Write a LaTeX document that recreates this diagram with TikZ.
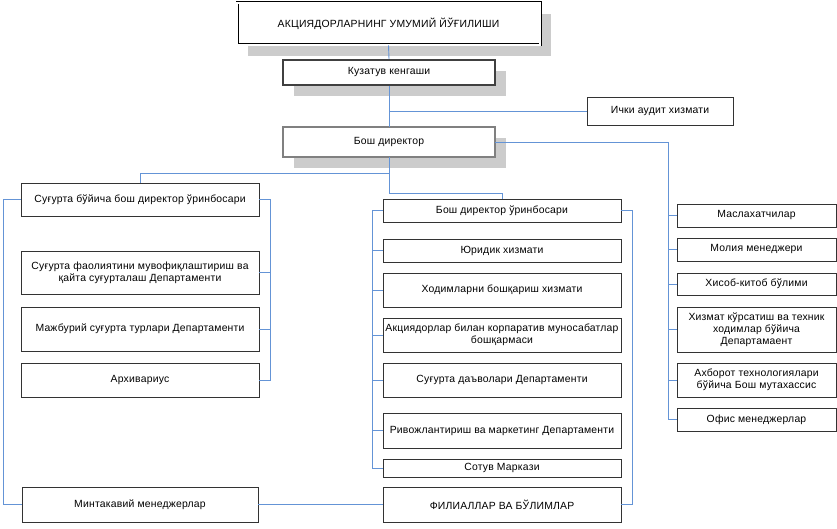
\documentclass[tikz,border=0pt]{standalone}
\usepackage{fontspec}
\setmainfont{Liberation Sans}[LetterSpace=2]
\usetikzlibrary{shadows}
\definecolor{conn}{RGB}{100,148,214}
\definecolor{shd}{RGB}{204,204,204}
\tikzset{
  box/.style={draw=black!80, line width=0.9pt, fill=white, inner sep=1pt,
    align=center, font=\fontsize{10.4}{12}\selectfont},
  shbox/.style={box, drop shadow={shadow xshift=11pt, shadow yshift=-11pt, opacity=1, fill=shd}},
  topbox/.style={shbox, draw=black, line width=0.7pt, double=white, double distance=1.6pt},
  bossbox/.style={shbox, draw=black, line width=0.7pt, double=gray, double distance=1.4pt},
  kuzbox/.style={shbox, draw=black!75, line width=2pt},
  link/.style={draw=conn, line width=0.9pt},
}
\begin{document}
\begin{tikzpicture}[x=1pt,y=-1pt]
\useasboundingbox (0,0) rectangle (837,529);
% top part
\node[topbox, minimum width=303pt, minimum height=42pt] (top) at (388.5,24) {АКЦИЯДОРЛАРНИНГ УМУМИЙ ЙЎҒИЛИШИ};
\node[kuzbox, minimum width=212pt, minimum height=25pt] (kuz) at (389,72.5) {Кузатув кенгаши};
\node[bossbox, minimum width=212pt, minimum height=30pt] (bosh) at (389,142) {Бош директор};
\node[box, minimum width=146pt, minimum height=28pt] (ichki) at (660,111) {Ички аудит хизмати};
% right column
\node[box, minimum width=159pt, minimum height=23pt] (masl) at (756.5,215.5) {Маслахатчилар};
\node[box, minimum width=159pt, minimum height=23pt] (moliya) at (756.5,249.5) {Молия менеджери};
\node[box, minimum width=159pt, minimum height=22pt] (hisob) at (756.5,284) {Хисоб-китоб бўлими};
\node[box, minimum width=159pt, minimum height=45pt] (hizmat) at (756.5,329.5) {Хизмат кўрсатиш ва техник\\ходимлар бўйича\\Департамаент};
\node[box, minimum width=159pt, minimum height=34pt] (ahborot) at (756.5,380) {Ахборот технологиялари\\бўйича Бош мутахассис};
\node[box, minimum width=159pt, minimum height=23pt] (ofis) at (756.5,419.5) {Офис менеджерлар};
% left column
\node[box, minimum width=238pt, minimum height=33pt] (l1) at (140,199.5) {Суғурта бўйича бош директор ўринбосари};
\node[box, minimum width=238pt, minimum height=43pt] (l2) at (140,272.5) {Суғурта фаолиятини мувофиқлаштириш ва\\қайта суғурталаш Департаменти};
\node[box, minimum width=238pt, minimum height=44pt] (l3) at (140,329) {Мажбурий суғурта турлари Департаменти};
\node[box, minimum width=238pt, minimum height=34pt] (l4) at (140,380) {Архивариус};
\node[box, minimum width=236pt, minimum height=35pt] (mint) at (140,504.5) {Минтакавий менеджерлар};
% middle column
\node[box, minimum width=238pt, minimum height=23pt] (m1) at (502,210.5) {Бош директор ўринбосари};
\node[box, minimum width=238pt, minimum height=23pt] (m2) at (502,250.5) {Юридик хизмати};
\node[box, minimum width=238pt, minimum height=34pt] (m3) at (502,290) {Ходимларни бошқариш хизмати};
\node[box, minimum width=238pt, minimum height=34pt] (m4) at (502,335) {Акциядорлар билан корпаратив муносабатлар\\бошқармаси};
\node[box, minimum width=238pt, minimum height=34pt] (m5) at (502,380) {Суғурта даъволари Департаменти};
\node[box, minimum width=238pt, minimum height=35pt] (m6) at (502,430.5) {Ривожлантириш ва маркетинг Департаменти};
\node[box, minimum width=238pt, minimum height=18pt] (m7) at (502,468) {Сотув Маркази};
\node[box, minimum width=238pt, minimum height=35pt] (fil) at (502,504.5) {ФИЛИАЛЛАР ВА БЎЛИМЛАР};
% helper coordinates
\coordinate (rbus) at (668,142);
\coordinate (lbus) at (270,199.5);
\coordinate (obus) at (3,199.5);
\coordinate (mbus) at (372,210.5);
\coordinate (fbus) at (632,210.5);
\coordinate (splitl) at (389,173);
\coordinate (splitm) at (389,193);
% connectors
\draw[link] (top.south) -- (kuz.north);
\draw[link] (kuz.south) -- (bosh.north);
\draw[link] (kuz.south |- ichki.west) -- (ichki.west);
\draw[link] (bosh.east) -- (rbus) -- (rbus |- ofis.west) -- (ofis.west);
\foreach \n in {masl,moliya,hisob,hizmat,ahborot} \draw[link] (rbus |- \n.west) -- (\n.west);
\draw[link] (bosh.south) -- (splitm) -| (m1.north);
\draw[link] (splitl) -| (l1.north);
\draw[link] (l1.east) -- (lbus) -- (lbus |- l4.east) -- (l4.east);
\foreach \n in {l2,l3} \draw[link] (lbus |- \n.east) -- (\n.east);
\draw[link] (l1.west) -- (obus) -- (obus |- mint.west) -- (mint.west);
\draw[link] (mint.east) -- (fil.west);
\draw[link] (fil.east) -- (fbus |- fil.east) -- (fbus) -- (m1.east);
\draw[link] (m1.west) -- (mbus) -- (mbus |- m7.west) -- (m7.west);
\foreach \n in {m2,m3,m4,m5,m6} \draw[link] (mbus |- \n.west) -- (\n.west);
\end{tikzpicture}
\end{document}
